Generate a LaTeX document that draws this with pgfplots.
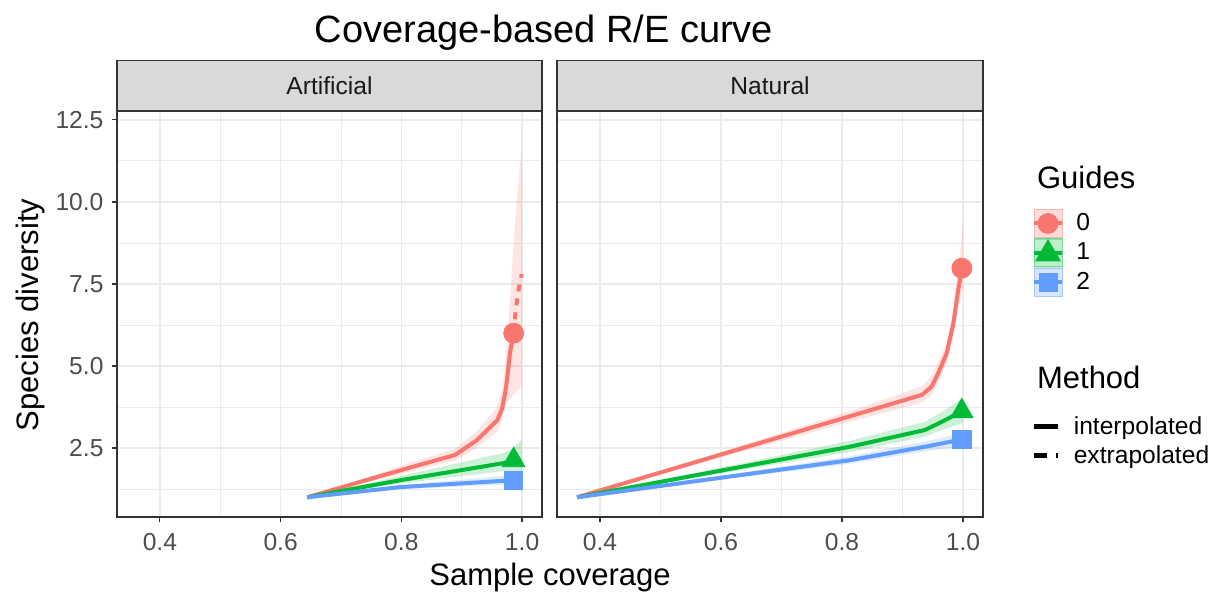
\documentclass[border=0pt]{standalone}
\usepackage{fontspec}
\setmainfont{Liberation Sans}
\usepackage{pgfplots}
\pgfplotsset{compat=1.18}
\definecolor{c0}{HTML}{F8766D}
\definecolor{c1}{HTML}{00BA38}
\definecolor{c2}{HTML}{619CFF}
\definecolor{gridc}{HTML}{EBEBEB}
\definecolor{g20}{HTML}{333333}
\definecolor{g30}{HTML}{4D4D4D}
\definecolor{g85}{HTML}{D9D9D9}
\definecolor{g10}{HTML}{1A1A1A}
\newcommand{\fs}[1]{\fontsize{#1}{#1}\selectfont}
\pgfplotsset{
  panel/.style={
    scale only axis, height=203pt,
    xmin=0.329, xmax=1.033, ymin=0.4, ymax=12.77,
    xtick={0.4,0.6,0.8,1.0}, minor xtick={0.5,0.7,0.9},
    ytick={2.5,5,7.5,10,12.5}, minor ytick={1.25,3.75,6.25,8.75,11.25},
    grid=both,
    major grid style={draw=gridc, line width=0.8pt},
    minor grid style={draw=gridc, line width=0.4pt},
    axis line style={draw=g20, line width=0.7pt},
    tick align=outside, tick pos=left,
    major tick length=2.75pt, minor tick length=0pt,
    tick style={draw=g20, line width=0.6pt},
    ticklabel style={font=\fs{12.3}, text=g30},
    xticklabel style={yshift=-2pt},
    yticklabel style={xshift=-0.5pt},
    /pgf/number format/fixed, /pgf/number format/fixed zerofill,
    /pgf/number format/precision=1, /pgf/number format/assume math mode=true,
    every axis title shift=0pt,
    title style={at={(0.5,1)}, anchor=south, yshift=0pt, fill=g85, draw=g20, line width=0.7pt,
      minimum height=25pt, inner sep=0pt, font=\fs{12.3}, text=g10},
  },
  band/.style={draw=none, fill=#1, fill opacity=0.2},
  interp/.style={#1, line width=2pt, line join=round},
  extrap/.style={#1, line width=2pt, dash pattern=on 3.5pt off 3.5pt},
}
\begin{document}
\begin{tikzpicture}
\useasboundingbox (0,0) rectangle (612.5pt,301.5pt);
% ---------------- Artificial ----------------
\begin{axis}[panel, at={(58.5pt,43pt)}, anchor=south west, width=212.5pt,
  title={Artificial}, title style={minimum width=212.5pt}]
\addplot[band=c0] coordinates {(0.644,1.0) (0.700,1.33) (0.798,1.95) (0.889,2.48) (0.925,3.0) (0.959,3.75) (0.967,4.3) (0.972,5.0) (0.976,6.0) (0.981,7.3) (0.987,9.0) (0.993,10.4) (0.9995,11.7)
 (0.9995,4.4) (0.995,4.3) (0.990,4.2) (0.985,4.1) (0.980,4.0) (0.975,3.9) (0.967,3.4) (0.959,3.0) (0.925,2.5) (0.889,2.12) (0.798,1.7) (0.700,1.27) (0.644,1.0)} -- cycle;
\addplot[band=c1] coordinates {(0.644,1) (0.798,1.65) (0.969,2.35) (0.985,2.5) (0.9995,2.75) (0.9995,1.75) (0.985,1.8) (0.969,1.8) (0.798,1.42) (0.644,1)} -- cycle;
\addplot[band=c2] coordinates {(0.644,1) (0.798,1.37) (0.985,1.68) (0.9995,1.72) (0.9995,1.38) (0.985,1.4) (0.798,1.25) (0.644,1)} -- cycle;
\addplot[interp=c0] coordinates {(0.644,1.0) (0.700,1.30) (0.798,1.82) (0.889,2.29) (0.925,2.74) (0.959,3.35) (0.967,3.71) (0.972,4.18) (0.975,4.57) (0.980,5.4) (0.986,6.0)};
\addplot[extrap=c0] coordinates {(0.986,6.0) (0.990,6.8) (0.995,7.4) (0.9995,7.8)};
\addplot[interp=c1] coordinates {(0.644,1.0) (0.798,1.52) (0.969,2.04) (0.986,2.13)};
\addplot[extrap=c1] coordinates {(0.986,2.13) (0.9995,2.18)};
\addplot[interp=c2] coordinates {(0.644,1.0) (0.798,1.31) (0.986,1.52)};
\addplot[extrap=c2] coordinates {(0.986,1.52) (0.9995,1.55)};
\addplot[only marks, mark=*, mark size=5pt, color=c0] coordinates {(0.986,6.0)};
\addplot[only marks, mark=triangle*, mark size=6.5pt, color=c1] coordinates {(0.986,2.13)};
\addplot[only marks, mark=square*, mark size=4.6pt, color=c2] coordinates {(0.986,1.52)};
\end{axis}
% ---------------- Natural ----------------
\begin{axis}[panel, at={(278.5pt,43pt)}, anchor=south west, width=213pt,
  yticklabels={}, ytick style={draw=none},
  title={Natural}, title style={minimum width=213pt}]
\addplot[band=c0] coordinates {(0.362,1) (0.813,3.62) (0.932,4.38) (0.948,4.7) (0.959,5.1) (0.973,5.7) (0.984,6.7) (0.992,7.9) (0.998,9.0) (1.0,9.6)
 (1.0,7.4) (0.998,7.2) (0.992,6.8) (0.984,5.9) (0.973,5.1) (0.959,4.5) (0.948,4.1) (0.932,3.88) (0.813,3.3) (0.362,1)} -- cycle;
\addplot[band=c1] coordinates {(0.362,1) (0.813,2.72) (0.937,3.3) (0.965,3.6) (0.998,4.0) (1.0,4.05) (1.0,3.25) (0.998,3.25) (0.965,3.05) (0.937,2.85) (0.813,2.38) (0.362,1)} -- cycle;
\addplot[band=c2] coordinates {(0.362,1) (0.813,2.25) (0.937,2.7) (0.998,2.95) (1.0,2.97) (1.0,2.55) (0.998,2.55) (0.937,2.4) (0.813,2.02) (0.362,1)} -- cycle;
\addplot[interp=c0] coordinates {(0.362,1.0) (0.932,4.12) (0.948,4.37) (0.959,4.78) (0.973,5.39) (0.984,6.3) (0.992,7.32) (0.998,7.98)};
\addplot[extrap=c0] coordinates {(0.998,7.98) (1.0,8.1)};
\addplot[interp=c1] coordinates {(0.362,1.0) (0.813,2.54) (0.937,3.05) (0.965,3.3) (0.998,3.62)};
\addplot[extrap=c1] coordinates {(0.998,3.62) (1.0,3.65)};
\addplot[interp=c2] coordinates {(0.362,1.0) (0.813,2.13) (0.937,2.54) (0.998,2.76)};
\addplot[extrap=c2] coordinates {(0.998,2.76) (1.0,2.77)};
\addplot[only marks, mark=*, mark size=5pt, color=c0] coordinates {(0.998,7.98)};
\addplot[only marks, mark=triangle*, mark size=6.5pt, color=c1] coordinates {(0.998,3.62)};
\addplot[only marks, mark=square*, mark size=4.6pt, color=c2] coordinates {(0.998,2.76)};
\end{axis}
% ---------------- Legends ----------------
\begin{axis}[hide axis, scale only axis, width=10pt, height=10pt, xmin=0, xmax=1, ymin=0, ymax=1,
  at={(515.8pt,197.2pt)}, anchor=north west, legend cell align=left,
  legend style={at={(0,1)}, anchor=north west, draw=none, fill=none, inner sep=0pt,
    font=\fs{12.3}, row sep=0.25pt}]
\addlegendimage{legend image code/.code={
  \fill[c0, opacity=0.25] (0pt,-7pt) rectangle (14pt,7pt);
  \draw[c0!55, line width=0.5pt] (0pt,-7pt) rectangle (14pt,7pt);
  \draw[c0, line width=2pt] (0pt,0pt) -- (14pt,0pt);
  \fill[c0] (7pt,0pt) circle (5pt);
  \path (19pt,0pt);}}
\addlegendentry{0}
\addlegendimage{legend image code/.code={
  \fill[c1, opacity=0.25] (0pt,-7pt) rectangle (14pt,7pt);
  \draw[c1!55, line width=0.5pt] (0pt,-7pt) rectangle (14pt,7pt);
  \draw[c1, line width=2pt] (0pt,0pt) -- (14pt,0pt);
  \fill[c1] (7pt,6.5pt) -- (0.8pt,-4pt) -- (13.2pt,-4pt) -- cycle;
  \path (19pt,0pt);}}
\addlegendentry{1}
\addlegendimage{legend image code/.code={
  \fill[c2, opacity=0.25] (0pt,-7pt) rectangle (14pt,7pt);
  \draw[c2!55, line width=0.5pt] (0pt,-7pt) rectangle (14pt,7pt);
  \draw[c2, line width=2pt] (0pt,0pt) -- (14pt,0pt);
  \fill[c2] (2.5pt,-4.5pt) rectangle (11.5pt,4.5pt);
  \path (19pt,0pt);}}
\addlegendentry{2}
\end{axis}
\begin{axis}[hide axis, scale only axis, width=10pt, height=10pt, xmin=0, xmax=1, ymin=0, ymax=1,
  at={(515.8pt,95.5pt)}, anchor=north west, legend cell align=left,
  legend style={at={(0,1)}, anchor=north west, draw=none, fill=none, inner sep=0pt,
    font=\fs{12.3}, row sep=0pt}]
\addlegendimage{legend image code/.code={\draw[black, line width=2.4pt] (0pt,0pt) -- (12pt,0pt); \path (17.5pt,0pt);}}
\addlegendentry{interpolated}
\addlegendimage{legend image code/.code={\draw[black, line width=2.4pt, dash pattern=on 6.5pt off 4.5pt] (0pt,0pt) -- (12pt,0pt); \path (17.5pt,0pt);}}
\addlegendentry{extrapolated}
\end{axis}
% ---------------- Titles ----------------
\node[font=\fs{19}, text=black] at (272pt,285.3pt) {Coverage-based R/E curve};
\node[font=\fs{15.5}, text=black, anchor=west] at (515pt,213pt) {Guides};
\node[font=\fs{15.5}, text=black, anchor=west] at (515pt,113pt) {Method};
\node[font=\fs{15.5}, text=black] at (275pt,13pt) {Sample coverage};
\node[font=\fs{15.5}, text=black, rotate=90] at (15pt,144pt) {Species diversity};
\end{tikzpicture}
\end{document}
